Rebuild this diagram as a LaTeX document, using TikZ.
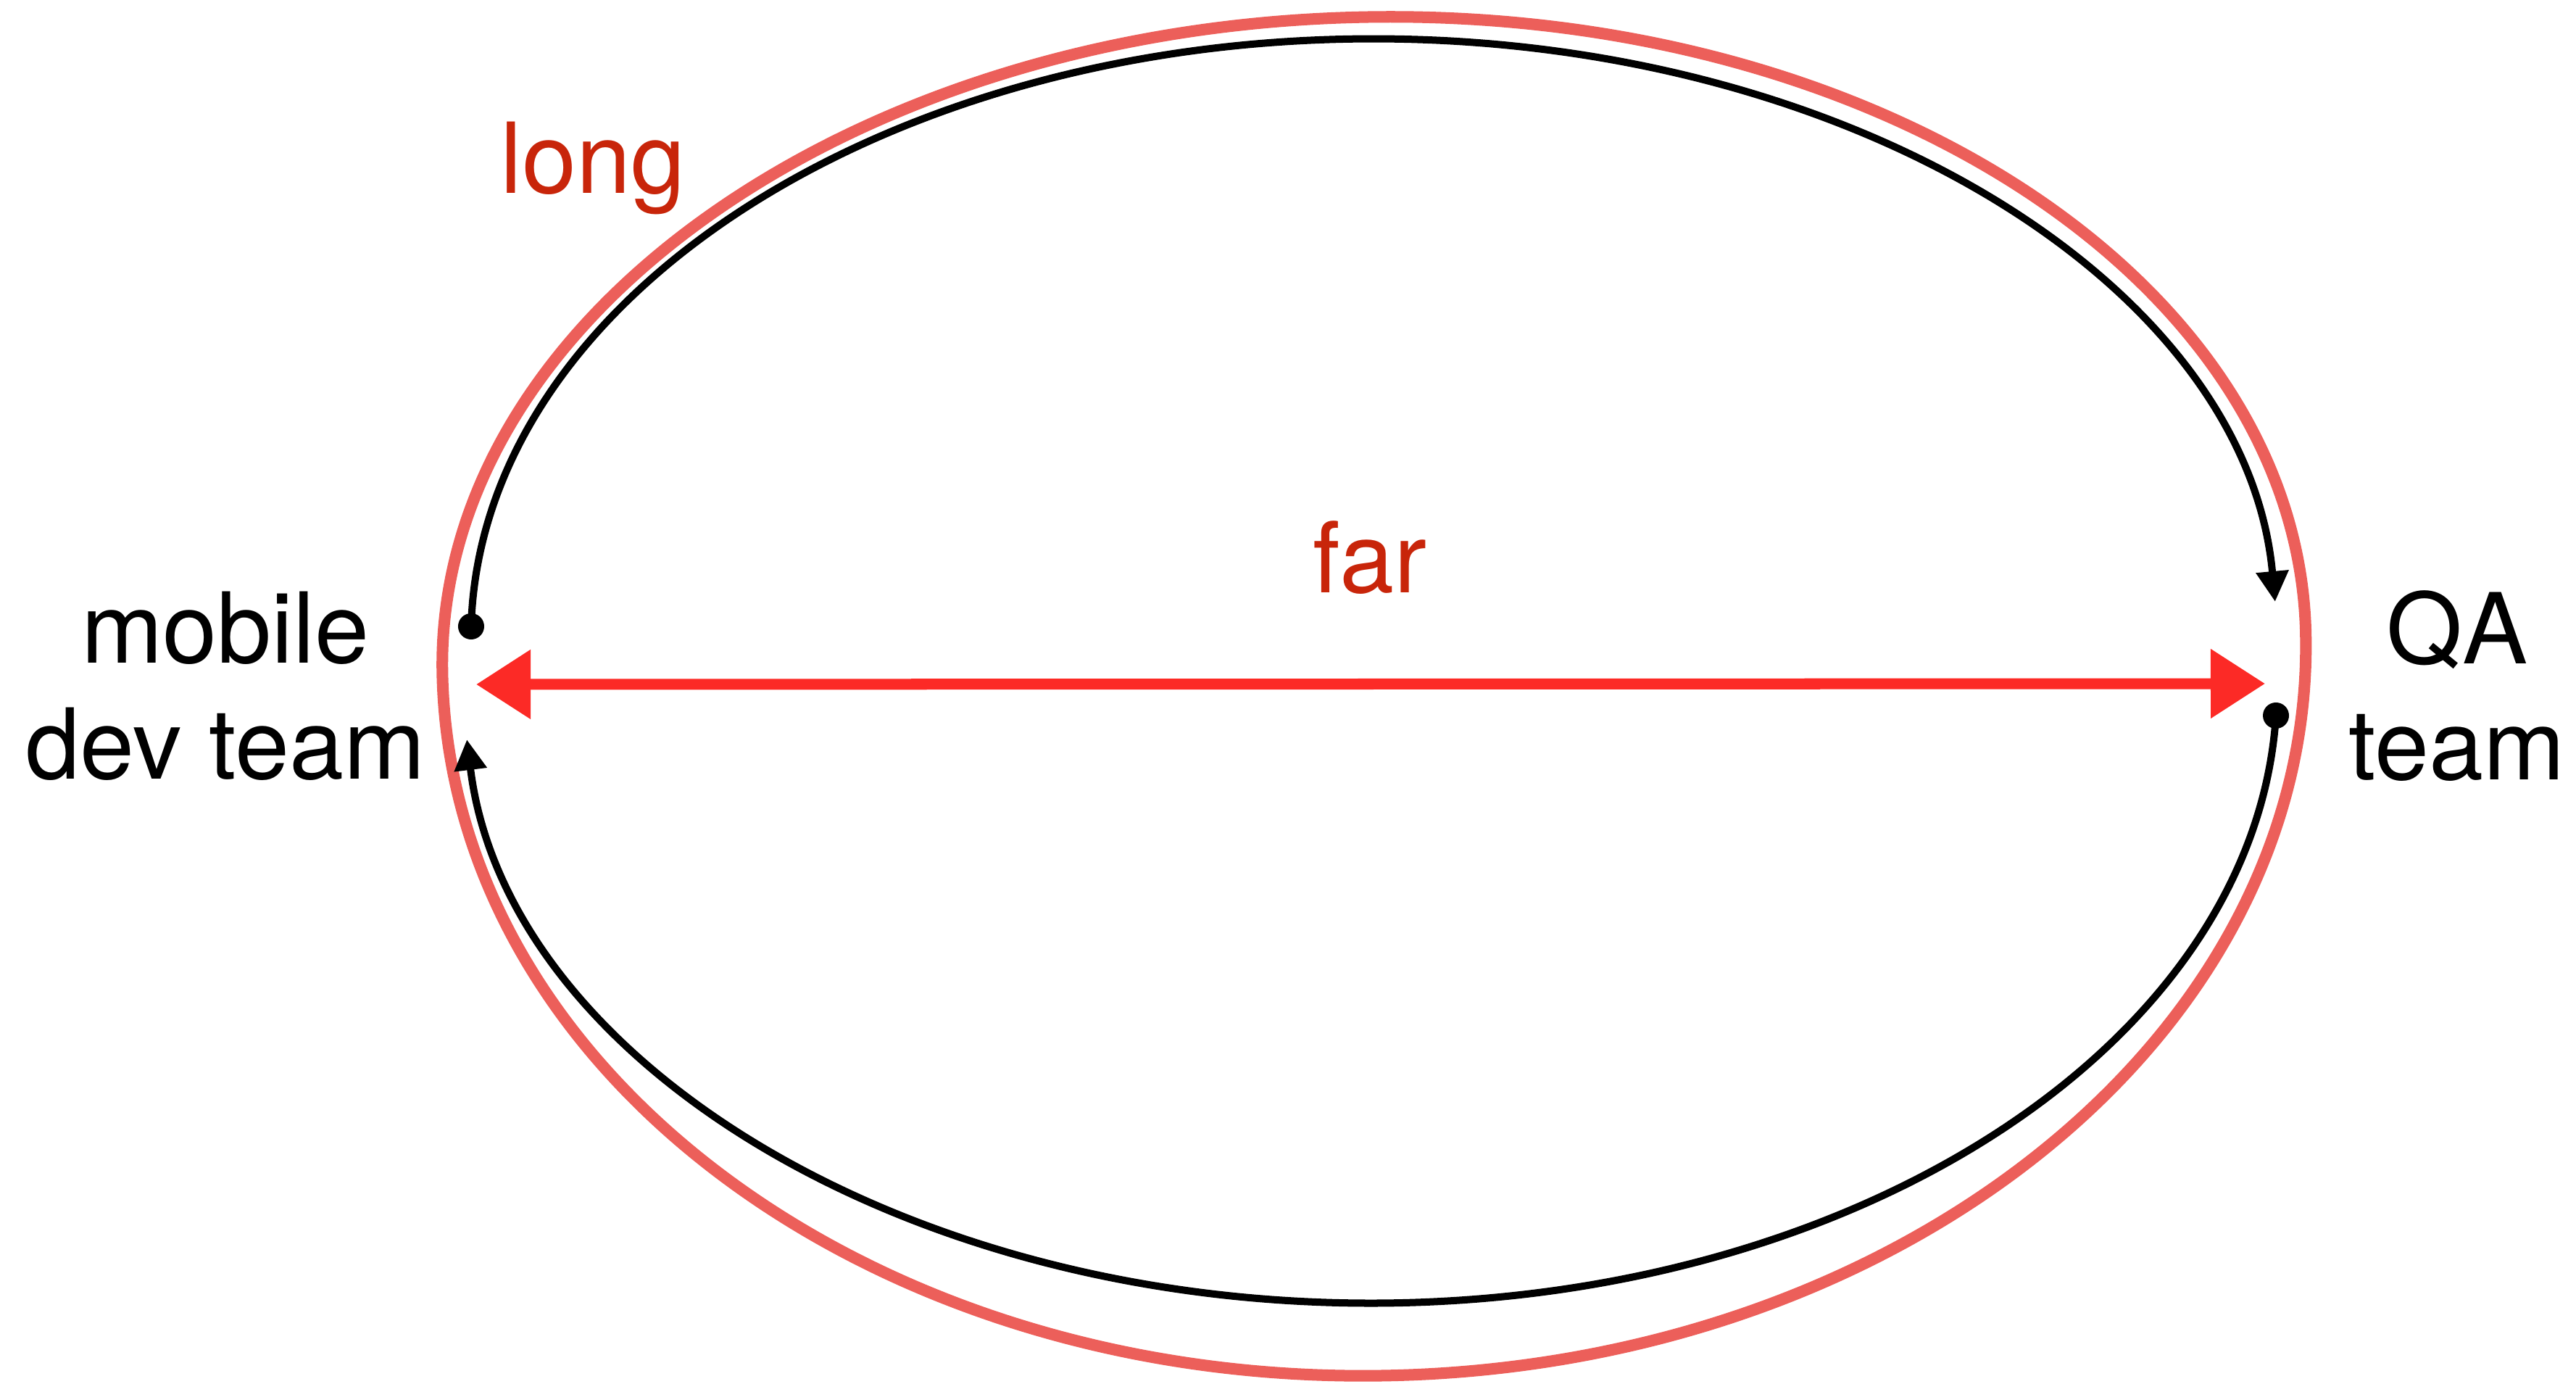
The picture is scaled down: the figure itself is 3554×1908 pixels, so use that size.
\documentclass[tikz,border=0pt]{standalone}
\usepackage{fontspec}
\setmainfont{TeX Gyre Heros}
\usetikzlibrary{arrows.meta}
\definecolor{ellred}{HTML}{EC5F5A}
\definecolor{arrred}{HTML}{FC2A26}
\definecolor{txtred}{HTML}{C8250A}
\begin{document}
\begin{tikzpicture}[x=0.01cm,y=0.01cm,
  lbl/.style={font=\fontsize{38.4pt}{45.5pt}\selectfont, inner sep=0pt, align=center},
  redlbl/.style={lbl, text=txtred},
  dotnode/.style={circle, fill=black, minimum size=3.6mm, inner sep=0pt},
  flow/.style={line width=1mm, -{Triangle[length=4.2mm,width=4.3mm]}},
  pencil/.style={draw=ellred, line width=1.6mm},
  farrow/.style={draw=arrred, line width=1.5mm, {Triangle[length=7.5mm,width=9.2mm]}-{Triangle[length=7.5mm,width=9.2mm]}}]
\useasboundingbox (0,0) rectangle (3554,1908);
% pencil outline
\draw[pencil, rotate around={1.27:(1895,1006)}] (610,1006)
  arc[start angle=180, end angle=0, x radius=12.85cm, y radius=8.78cm]
  arc[start angle=0, end angle=-180, x radius=12.85cm, y radius=9.95cm] -- cycle;
% endpoints
\node[dotnode] (dotL) at (650,1044) {};
\node[dotnode] (dotR) at (3140,921) {};
\coordinate (farL) at (657,964);
\coordinate (farR) at (3125,965);
% flows
\draw[flow] (dotL.center) arc[start angle=178.89, end angle=3.47, x radius=12.45cm, y radius=8.26cm];
\draw[flow] (dotR.center) arc[start angle=-2.5, end angle=-175.26, x radius=12.5cm, y radius=8.47cm];
% far arrow
\draw[farrow] (farL) -- (farR);
% labels
\node[lbl] (dev) at (311,962) {mobile\\dev team};
\node[lbl] (qa) at (3390,962) {QA\\team};
\node[redlbl, anchor=base] (long) at (818,1641) {long};
\node[redlbl, anchor=base] (far) at (1890,1090) {far};
\end{tikzpicture}
\end{document}
